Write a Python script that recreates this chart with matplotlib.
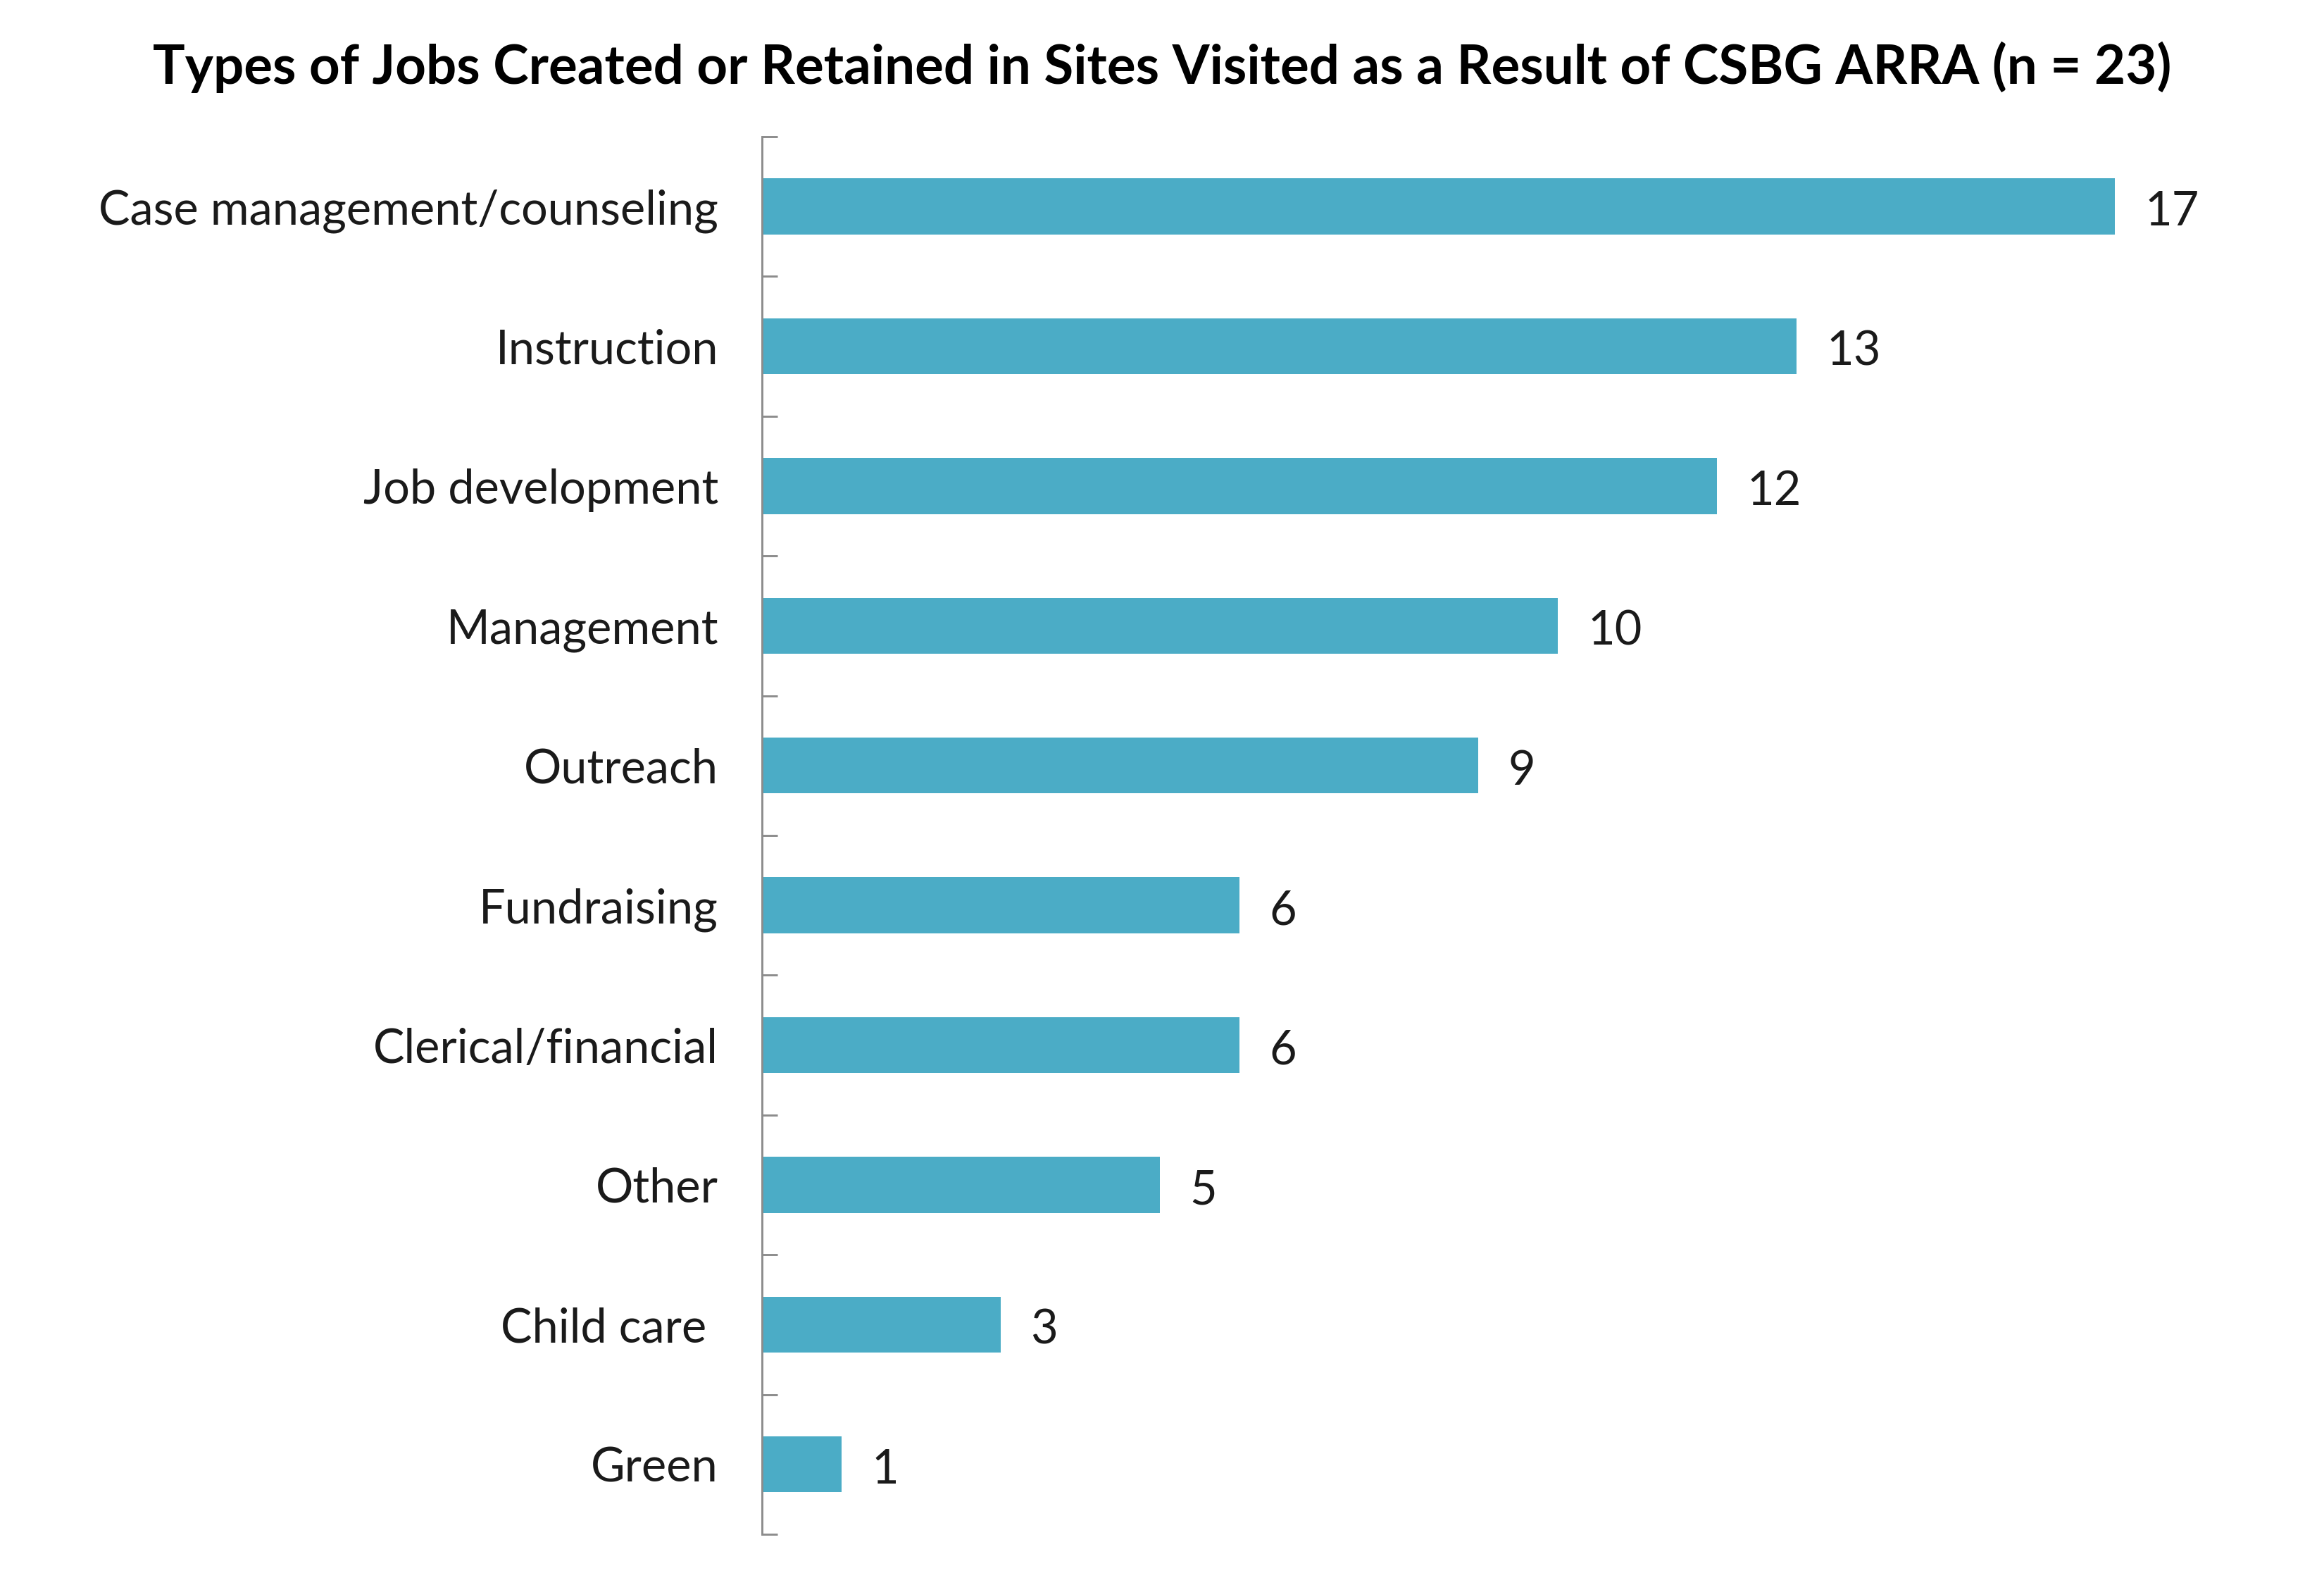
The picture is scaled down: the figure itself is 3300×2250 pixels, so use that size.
import matplotlib
matplotlib.use('Agg')
import matplotlib.pyplot as plt
import numpy as np

# Job types and counts of sites (n = 23)
categories = ['Case management/counseling', 'Instruction', 'Job development',
              'Management', 'Outreach', 'Fundraising', 'Clerical/financial',
              'Other', 'Child care ', 'Green']
counts = [17, 13, 12, 10, 9, 6, 6, 5, 3, 1]
title = 'Types of Jobs Created or Retained in Sites Visited as a Result of CSBG ARRA (n = 23)'

plt.rcParams['font.family'] = ['Lato', 'DejaVu Sans']

fig = plt.figure(figsize=(11, 7.5), dpi=300)
ax = fig.add_axes([0.328, 0.032, 0.6506, 0.8818])

y = np.arange(len(categories))
ax.barh(y, counts, height=0.4, color='#4BACC6')

for yi, v in zip(y, counts):
    ax.annotate(str(v), xy=(v, yi), xytext=(10, -2), textcoords='offset points',
                ha='left', va='center', fontsize=16, color='#1a1a1a')

ax.set_ylim(len(categories) - 0.5, -0.5)
ax.set_xlim(0, 19)

# labels at bar centers, short ticks between categories
ax.set_yticks(y)
ax.set_yticklabels(categories, fontsize=16, color='#1a1a1a')
ax.set_yticks(np.arange(-0.5, len(categories)), minor=True)
ax.tick_params(axis='y', which='major', length=0, pad=15)
ax.tick_params(axis='y', which='minor', direction='in', length=5.2,
               width=0.7, color='#8c8c8c')
ax.set_xticks([])

for side in ['top', 'right', 'bottom']:
    ax.spines[side].set_visible(False)
ax.spines['left'].set_color('#8c8c8c')
ax.spines['left'].set_linewidth(0.7)

fig.text(0.5, 1 - 95 / 2250, title, ha='center', va='center',
         fontsize=18.3, fontweight='bold', color='black')

fig.savefig('out.png', dpi=300, facecolor='white')
